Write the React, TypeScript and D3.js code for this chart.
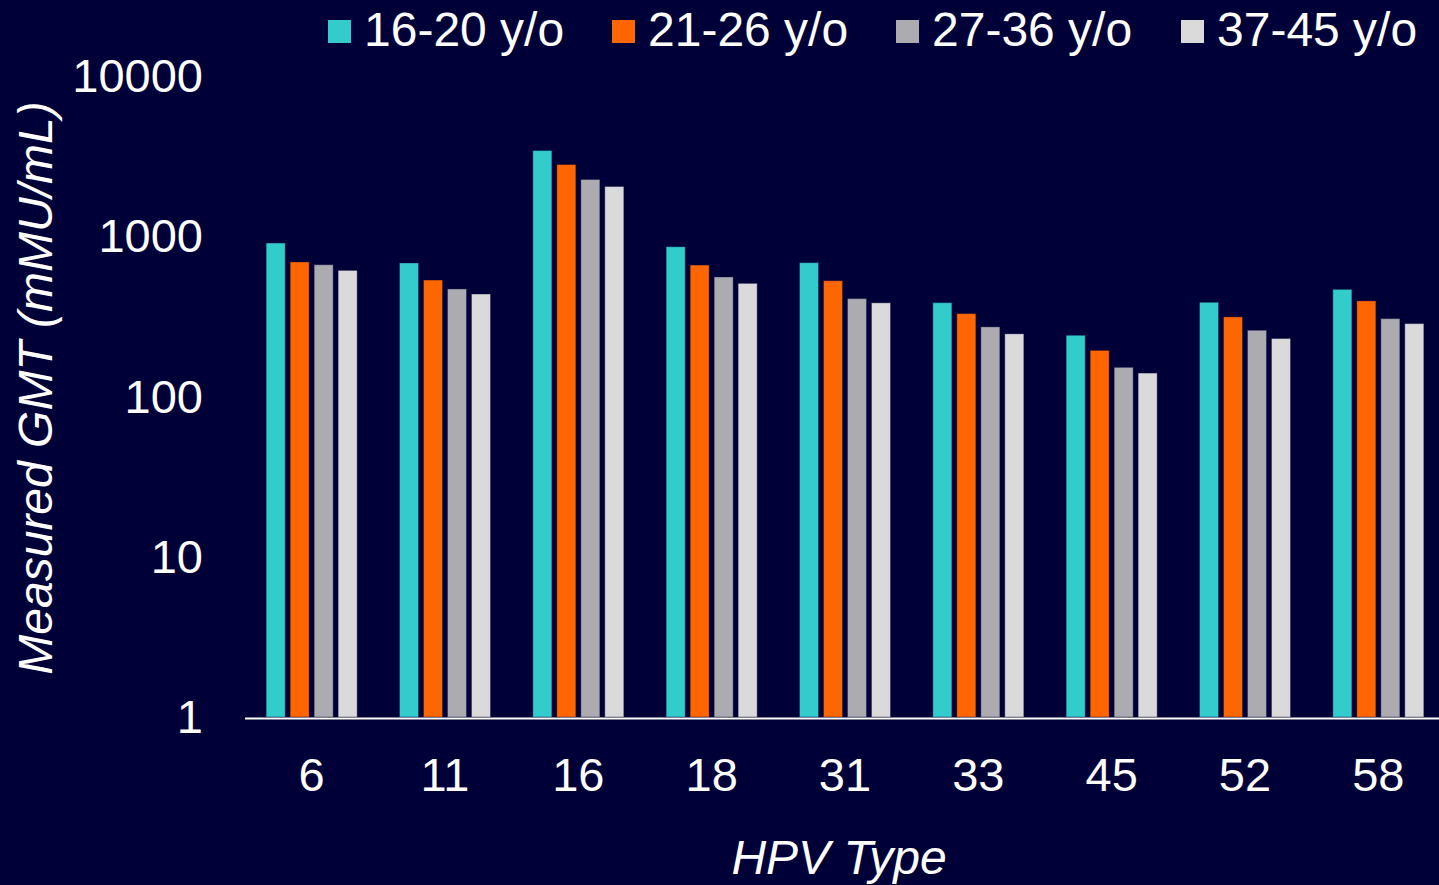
import React, { useEffect, useRef } from 'react';
import * as d3 from 'd3';

// HPV types on the x axis
const hpvTypes = ['6', '11', '16', '18', '31', '33', '45', '52', '58'];

const ageGroups = ['16-20 y/o', '21-26 y/o', '27-36 y/o', '37-45 y/o'];
const groupColors = ['#33CCCC', '#FF6600', '#ABABB0', '#DADADA'];

// measured GMT (mMU/mL)
const gmt1620 = [907, 681, 3426, 860, 684, 385, 241, 387, 466];
const gmt2126 = [691, 533, 2802, 661, 528, 329, 194, 314, 395];
const gmt2736 = [664, 469, 2260, 557, 408, 272, 152, 259, 306];
const gmt3745 = [612, 436, 2043, 508, 384, 246, 140, 230, 285];

const yTicks = [1, 10, 100, 1000, 10000];

const W = 1439;
const H = 885;
const FONT = '"Liberation Sans", Arial, sans-serif';

const App = () => {
    const svgRef = useRef<SVGSVGElement>(null);

    useEffect(() => {
        const svg = d3.select(svgRef.current);
        svg.selectAll('*').remove();

        svg.append('rect').attr('width', W).attr('height', H).attr('fill', '#000038');

        const series = [gmt1620, gmt2126, gmt2736, gmt3745];

        const x = d3.scaleBand().domain(hpvTypes).range([245, 1445]).padding(0);
        const xInner = d3.scaleBand()
            .domain(ageGroups)
            .range([0, x.bandwidth()])
            .paddingInner(0.208)
            .paddingOuter(0.883);
        const y = d3.scaleLog().domain([1, 10000]).range([717, 76]);

        // bars
        series.forEach((vals, si) => {
            svg.append('g')
                .selectAll('rect')
                .data(vals)
                .join('rect')
                .attr('x', (d, i) => x(hpvTypes[i]) + xInner(ageGroups[si]))
                .attr('y', d => y(d))
                .attr('width', xInner.bandwidth())
                .attr('height', d => y(1) - y(d))
                .attr('fill', groupColors[si])
                .attr('stroke', '#000038')
                .attr('stroke-opacity', 0.35)
                .attr('stroke-width', 1);
        });

        // x axis line
        svg.append('line')
            .attr('x1', 245).attr('x2', W)
            .attr('y1', 718.5).attr('y2', 718.5)
            .attr('stroke', '#ffffff')
            .attr('stroke-width', 2);

        // y tick labels
        svg.append('g')
            .selectAll('text')
            .data(yTicks)
            .join('text')
            .attr('x', 203)
            .attr('y', d => y(d) + 16)
            .attr('text-anchor', 'end')
            .attr('font-family', FONT)
            .attr('font-size', 47)
            .attr('fill', '#ffffff')
            .text(d => d);

        // x tick labels
        svg.append('g')
            .selectAll('text')
            .data(hpvTypes)
            .join('text')
            .attr('x', d => x(d) + x.bandwidth() / 2)
            .attr('y', 791)
            .attr('text-anchor', 'middle')
            .attr('font-family', FONT)
            .attr('font-size', 47)
            .attr('fill', '#ffffff')
            .text(d => d);

        // axis titles
        svg.append('text')
            .attr('x', 839)
            .attr('y', 874)
            .attr('text-anchor', 'middle')
            .attr('font-family', FONT)
            .attr('font-style', 'italic')
            .attr('font-size', 48)
            .attr('fill', '#ffffff')
            .text('HPV Type');

        svg.append('text')
            .attr('transform', 'translate(52,388) rotate(-90)')
            .attr('text-anchor', 'middle')
            .attr('font-family', FONT)
            .attr('font-style', 'italic')
            .attr('font-size', 48)
            .attr('fill', '#ffffff')
            .text('Measured GMT (mMU/mL)');

        // legend
        const legendX = [328, 612, 896, 1181];
        const legend = svg.append('g')
            .selectAll('g')
            .data(ageGroups)
            .join('g')
            .attr('transform', (d, i) => `translate(${legendX[i]},0)`);

        legend.append('rect')
            .attr('x', 0).attr('y', 20)
            .attr('width', 23).attr('height', 23)
            .attr('fill', (d, i) => groupColors[i]);

        legend.append('text')
            .attr('x', 36)
            .attr('y', 46)
            .attr('font-family', FONT)
            .attr('font-size', 48)
            .attr('fill', '#ffffff')
            .text(d => d);
    }, []);

    return (
        <div style={{ position: 'fixed', left: 0, top: 0 }}>
            <svg ref={svgRef} width={W} height={H} style={{ display: 'block' }} />
        </div>
    );
};

export default App;
